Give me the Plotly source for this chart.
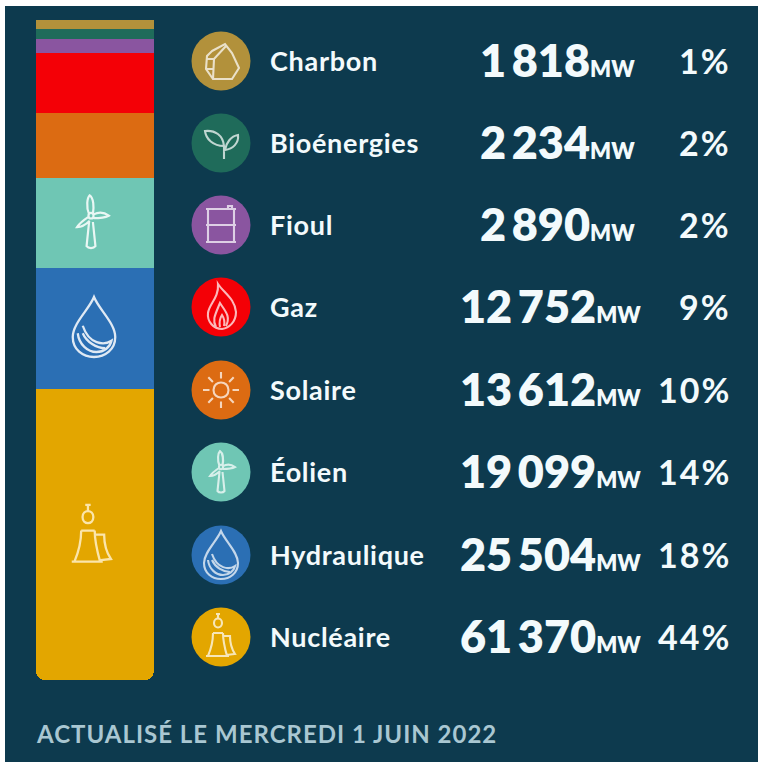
import math
import re

import plotly.graph_objects as go

# Production mix, top of the stack first
sources = ["Charbon", "Bioénergies", "Fioul", "Gaz", "Solaire", "Éolien", "Hydraulique", "Nucléaire"]
megawatts = [1818, 2234, 2890, 12752, 13612, 19099, 25504, 61370]
shares = [1, 2, 2, 9, 10, 14, 18, 44]
colors = ["#B2913B", "#1F6B5A", "#8A55A0", "#F40006", "#DC6B12", "#6FC6B4", "#2B6FB4", "#E3A600"]
updated = "ACTUALISÉ LE MERCREDI 1 JUIN 2022"

WIDTH, HEIGHT = 758, 762
BACKGROUND = "#0D3A4E"
TEXT = "#F3FAFC"
FONT = "Lato"
ROW_Y = [61, 143, 225, 307, 390, 472, 555, 637]
BADGE_X = 221

# Line icons, drawn around (0, 0) at badge size
sun_rays = " ".join(
    "M {:.1f} {:.1f} L {:.1f} {:.1f}".format(
        11.5 * math.cos(i * math.pi / 4), 11.5 * math.sin(i * math.pi / 4),
        18 * math.cos(i * math.pi / 4), 18 * math.sin(i * math.pi / 4),
    )
    for i in range(8)
)
sun_disc = "M -7.5 0 C -7.5 -10 7.5 -10 7.5 0 C 7.5 10 -7.5 10 -7.5 0 Z"

TURBINE = (
    "M -1.5 -6 C -4 -12 -3 -19 -1 -21 C 2 -19 2.5 -12 1.5 -6 "
    "M 2 -6 C 6 -8 10 -8 14 -5 C 10 -3 6 -3 2 -3 "
    "M -2 -4 C -5 -2 -9 1 -11 4 C -7 4 -3 1 -1 -1 "
    "M -1.5 0 L -3.5 19 C -2 21 2 21 3.5 19 L 1.5 0 "
    "M -2 -5 C -2 -8 2 -8 2 -5 C 2 -2 -2 -2 -2 -5 Z"
)
DROP = (
    "M 0 -24 C 4 -14 17 -3 17 8 C 17 18 9 24 0 24 C -9 24 -17 18 -17 8 C -17 -3 -4 -14 0 -24 Z "
    "M -13 5 C -12 14 -5 20 2 20 C 8 20 13 16 14 11 C 8 15 -4 14 -9 -1 "
    "M -9 5 C -6 12 2 17 9 17"
)
REACTOR = (
    "M -7 -14 C -7 -20 1 -20 1 -14 C 1 -8 -7 -8 -7 -14 Z "
    "M -3 -19 L -3 -23 M -5 -23 L -1 -23 "
    "M -8 -4 L 2 -4 M -8 -4 C -8 5 -10 12 -13 19 M 2 -4 C 2 5 4 12 6 19 "
    "M 2 -1 L 9 -1 C 9 6 10 11 14 17 L 5 18 M -15 19 L 8 19"
)
ROCK = (
    "M -9 -10 L 4 -17 L 11 -8 L 18 7 L 11 18 L -8 18 L -15 8 L -14 -5 Z "
    "M -14 -2 L -7 -2 L 5 -15 M -7 -2 L -8 18 M -14 8 L -7 8"
)
SPROUT = (
    "M 3 3 C 2 -8 -6 -13 -16 -12 C -15 -4 -8 3 3 3 Z "
    "M 4 7 C 5 0 10 -7 17 -8 C 18 0 12 6 4 7 Z "
    "M 3 3 L 3 16"
)
BARREL = (
    "M -13 -16 L -13 17 M 13 -16 L 13 17 "
    "M -15 -16 L 15 -16 M -15 0 L 15 0 M -15 17 L 15 17 "
    "M 7 -16 L 7 -19 L 11 -19 L 11 -16"
)
FLAME = (
    "M -3 -23 C 3 -14 14 -8 15 5 C 15 15 8 21 1 22 C -8 22 -14 14 -13 6 C -12 -3 -2 -9 -3 -23 Z "
    "M -5 20 C -9 13 -6 8 -1 -4 C 4 4 10 9 5 19 M -1 20 C -2 15 -1 11 1 8 C 3 11 4 15 3 19"
)
SUN = sun_disc + " " + sun_rays

badge_icons = [ROCK, SPROUT, BARREL, FLAME, SUN, TURBINE, DROP, REACTOR]


def place(path, cx, cy, scale=1.0):
    """Scale an icon path and move it to (cx, cy)."""
    count = [0]

    def shift(match):
        value = float(match.group())
        origin = cy if count[0] % 2 else cx
        count[0] += 1
        return f"{origin + value * scale:.2f}"

    return re.sub(r"-?\d+(?:\.\d+)?", shift, path)


def icon_shape(path, cx, cy, scale=1.0, color="rgba(255,255,255,0.72)", width=2.1):
    return dict(
        type="path", xref="x2", yref="y2", layer="above",
        path=place(path, cx, cy, scale),
        line=dict(color=color, width=width),
    )


fig = go.Figure()

# Stacked column, one segment per source; only the last one has rounded corners
for name, value, color in zip(sources, megawatts, colors):
    marker = dict(color=color, line_width=0)
    if name == sources[-1]:
        marker["cornerradius"] = 9
    fig.add_bar(x=[0], y=[value], name=name, width=1, marker=marker, hoverinfo="skip")

# Round badges on a pixel-sized overlay
fig.add_scatter(
    x=[BADGE_X] * len(sources), y=ROW_Y, xaxis="x2", yaxis="y2", mode="markers",
    marker=dict(size=59, color=colors, line_width=0), hoverinfo="skip",
)

shapes = [
    dict(
        type="rect", xref="paper", yref="paper", layer="below", line_width=0, fillcolor=BACKGROUND,
        x0=5 / WIDTH, x1=1, y0=0, y1=1 - 6 / HEIGHT,
    )
]
for icon, y in zip(badge_icons, ROW_Y):
    shapes.append(icon_shape(icon, BADGE_X, y))
shapes.append(icon_shape(TURBINE, 91, 222, 1.27, "rgba(255,255,255,0.85)", 2.2))
shapes.append(icon_shape(DROP, 94, 327, 1.25, "rgba(255,255,255,0.85)", 2.3))
shapes.append(icon_shape(REACTOR, 92, 536, 1.35, "rgba(255,240,200,0.85)", 2.3))

annotations = []


def label(text, x, y, size, anchor="left", color=TEXT, weight=700):
    annotations.append(dict(
        text=text, x=x, y=y, xref="x2", yref="y2", xanchor=anchor, yanchor="middle",
        showarrow=False, font=dict(family=FONT, size=size, color=color, weight=weight),
    ))


def spaced(text, pixels):
    return f'<span style="letter-spacing:{pixels}px">{text}</span>'


for name, value, share, y in zip(sources, megawatts, shares, ROW_Y):
    label(spaced(name, 0.7), 268, y - 1, 27)
    number = f"{value:,}".replace(",", "\u2009")
    right = 643 if value >= 10000 else 637
    label(f'{number}<span style="font-size:22px">MW</span>', right, y - 1, 45, "right", weight=800)
    label(spaced(f"{share}%", 2), 733, y - 1, 34, "right")

label(spaced(updated, 1), 34, 733, 24, color="#A9C7D2", weight=700)

fig.update_layout(
    width=WIDTH, height=HEIGHT, margin=dict(l=0, r=0, t=0, b=0), autosize=False,
    barmode="stack", showlegend=False,
    paper_bgcolor="white", plot_bgcolor="rgba(0,0,0,0)",
    xaxis=dict(domain=[36 / WIDTH, 154 / WIDTH], range=[-0.5, 0.5], visible=False, fixedrange=True),
    yaxis=dict(
        domain=[1 - 680 / HEIGHT, 1 - 20 / HEIGHT], range=[sum(megawatts), 0],
        visible=False, fixedrange=True,
    ),
    xaxis2=dict(domain=[0, 1], range=[0, WIDTH], visible=False, anchor="y2", fixedrange=True),
    yaxis2=dict(domain=[0, 1], range=[HEIGHT, 0], visible=False, anchor="x2", fixedrange=True),
    shapes=shapes, annotations=annotations,
)

fig.write_html("out.html", config={"displayModeBar": False})
